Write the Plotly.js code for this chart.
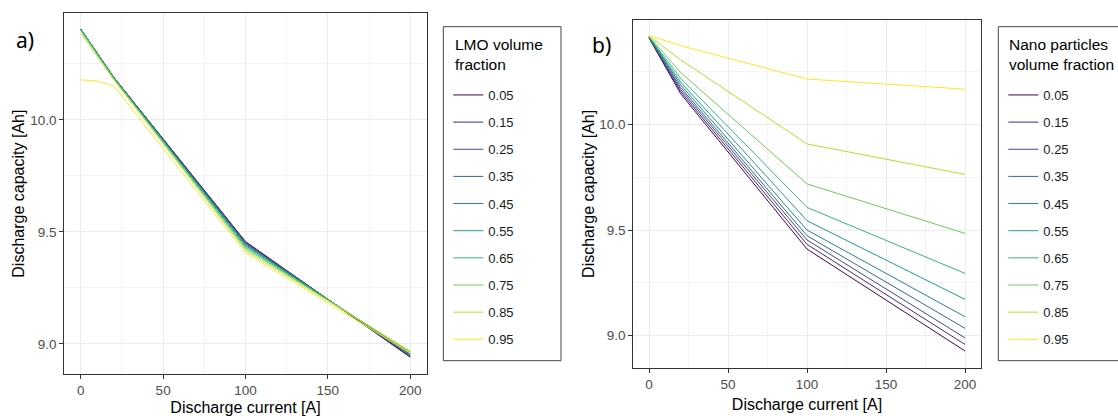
<!DOCTYPE html>
<html>
<head>
<meta charset="utf-8">
<script src="https://cdn.plot.ly/plotly-3.0.1.min.js"></script>
<style>html,body{margin:0;padding:0;background:#fff;}#chart{width:1118px;height:416px;}</style>
</head>
<body>
<div id="chart"></div>
<script>
// ---------- data ----------
const fractionLabels = ['0.05','0.15','0.25','0.35','0.45','0.55','0.65','0.75','0.85','0.95'];
const seriesColors = ['#440154','#482878','#3E4A89','#31688E','#26828E','#1F9E89','#35B779','#6DCD59','#B4DE2C','#FDE725'];

// Panel a) LMO volume fraction
const currentA = [0, 10, 20, 100, 200];
const lmo05 = [10.405, 10.297, 10.190, 9.457, 8.941];
const lmo15 = [10.405, 10.297, 10.190, 9.455, 8.943];
const lmo25 = [10.405, 10.297, 10.190, 9.452, 8.946];
const lmo35 = [10.405, 10.296, 10.189, 9.448, 8.950];
const lmo45 = [10.404, 10.296, 10.188, 9.444, 8.954];
const lmo55 = [10.403, 10.295, 10.187, 9.439, 8.958];
const lmo65 = [10.402, 10.294, 10.186, 9.433, 8.962];
const lmo75 = [10.400, 10.292, 10.185, 9.426, 8.966];
const lmo85 = [10.388, 10.284, 10.180, 9.418, 8.967];
const lmo95 = [10.179, 10.173, 10.152, 9.407, 8.960];

// Panel b) Nano particles volume fraction
const currentB = [0, 20, 100, 200];
const nano05 = [10.408, 10.145, 9.410, 8.928];
const nano15 = [10.409, 10.155, 9.432, 8.959];
const nano25 = [10.410, 10.165, 9.453, 8.990];
const nano35 = [10.411, 10.175, 9.473, 9.035];
const nano45 = [10.412, 10.187, 9.500, 9.090];
const nano55 = [10.413, 10.200, 9.544, 9.172];
const nano65 = [10.414, 10.218, 9.607, 9.295];
const nano75 = [10.416, 10.245, 9.718, 9.484];
const nano85 = [10.418, 10.305, 9.907, 9.763];
const nano95 = [10.420, 10.372, 10.214, 10.166];

const xTickVals = [0, 50, 100, 150, 200];
const yTickVals = [9.0, 9.5, 10.0];

// ---------- build ----------
const lmoSeries = [lmo05, lmo15, lmo25, lmo35, lmo45, lmo55, lmo65, lmo75, lmo85, lmo95];
const nanoSeries = [nano05, nano15, nano25, nano35, nano45, nano55, nano65, nano75, nano85, nano95];

const W = 1118, H = 416;
const px = v => v / W;
const py = v => 1 - v / H;

const traces = [];
lmoSeries.forEach((ys, i) => {
  traces.push({
    x: currentA, y: ys, type: 'scatter', mode: 'lines',
    name: fractionLabels[i], legendgroup: 'a' + i, legend: 'legend',
    line: {color: seriesColors[i], width: 1},
    xaxis: 'x', yaxis: 'y', hoverinfo: 'x+y+name'
  });
});
nanoSeries.forEach((ys, i) => {
  traces.push({
    x: currentB, y: ys, type: 'scatter', mode: 'lines',
    name: fractionLabels[i], legendgroup: 'b' + i, legend: 'legend2',
    line: {color: seriesColors[i], width: 1},
    xaxis: 'x2', yaxis: 'y2', hoverinfo: 'x+y+name'
  });
});

const FAMILY = 'Liberation Sans, Arial, sans-serif';
const tickFont = {family: FAMILY, size: 13.5, color: '#4d4d4d'};
const titleFont = {family: FAMILY, size: 16, color: '#000'};
const gridMajor = '#ebebeb', gridMinor = '#f4f4f4';

function xAxis(domain, anchor, standoff) {
  return {
    domain: domain, anchor: anchor, range: [-10, 210],
    tickmode: 'array', tickvals: xTickVals, ticktext: xTickVals.map(String),
    ticks: 'outside', ticklen: 4, tickcolor: '#333', tickwidth: 1,
    tickfont: tickFont, showline: true, mirror: true, linecolor: '#333', linewidth: 1,
    showgrid: true, gridcolor: gridMajor, gridwidth: 1, zeroline: false,
    minor: {tick0: 25, dtick: 50, showgrid: true, gridcolor: gridMinor, gridwidth: 1, ticks: ''},
    title: {text: 'Discharge current [A]', font: titleFont, standoff: standoff},
    automargin: false
  };
}
function yAxis(domain, anchor, range, standoff) {
  return {
    domain: domain, anchor: anchor, range: range,
    tickmode: 'array', tickvals: yTickVals, ticktext: yTickVals.map(v => v.toFixed(1)),
    ticks: 'outside', ticklen: 4, tickcolor: '#333', tickwidth: 1,
    tickfont: tickFont, showline: true, mirror: true, linecolor: '#333', linewidth: 1,
    showgrid: true, gridcolor: gridMajor, gridwidth: 1, zeroline: false,
    minor: {tick0: 9.25, dtick: 0.5, showgrid: true, gridcolor: gridMinor, gridwidth: 1, ticks: ''},
    title: {text: 'Discharge capacity [Ah]', font: titleFont, standoff: standoff},
    automargin: false
  };
}

const legendCommon = {
  xanchor: 'left', yanchor: 'top', bgcolor: 'rgba(0,0,0,0)', borderwidth: 0,
  font: {family: FAMILY, size: 13, color: '#1a1a1a'},
  tracegroupgap: 7.25, itemclick: false, itemdoubleclick: false
};

const legendTitleFont = {family: FAMILY, size: 15.5, color: '#000'};

const layout = {
  width: W, height: H,
  margin: {l: 0, r: 0, t: 0, b: 0},
  paper_bgcolor: '#fff', plot_bgcolor: '#fff',
  showlegend: true,
  xaxis: xAxis([px(64.3), px(426.7)], 'y', 11),
  yaxis: yAxis([py(374), py(13.3)], 'x', [8.866, 10.476], 1),
  xaxis2: xAxis([px(633.2), px(980.8)], 'y2', 7),
  yaxis2: yAxis([py(367.7), py(20)], 'x2', [8.849, 10.493], 0),
  legend: Object.assign({}, legendCommon, {x: px(448.3), y: py(80)}),
  legend2: Object.assign({}, legendCommon, {x: px(1003.3), y: py(80)}),
  shapes: [
    {type: 'rect', xref: 'paper', yref: 'paper', x0: px(443.3), x1: px(561), y0: py(360.7), y1: py(26.7),
     line: {color: '#444', width: 1}, fillcolor: 'rgba(0,0,0,0)', layer: 'above'},
    {type: 'rect', xref: 'paper', yref: 'paper', x0: px(998.3), x1: px(1130), y0: py(360.7), y1: py(26.7),
     line: {color: '#444', width: 1}, fillcolor: 'rgba(0,0,0,0)', layer: 'above'}
  ],
  annotations: [
    {text: 'a)', xref: 'paper', yref: 'paper', x: px(24.5), y: py(40), xanchor: 'center', yanchor: 'middle',
     showarrow: false, font: {family: 'Noto Sans, sans-serif', size: 21, color: '#000'}},
    {text: 'b)', xref: 'paper', yref: 'paper', x: px(601), y: py(45), xanchor: 'center', yanchor: 'middle',
     showarrow: false, font: {family: 'Noto Sans, sans-serif', size: 21, color: '#000'}},
    {text: 'LMO volume<br>fraction', xref: 'paper', yref: 'paper', x: px(452.5), y: py(33.5),
     xanchor: 'left', yanchor: 'top', align: 'left', showarrow: false, font: legendTitleFont},
    {text: 'Nano particles<br>volume fraction', xref: 'paper', yref: 'paper', x: px(1006.5), y: py(33.5),
     xanchor: 'left', yanchor: 'top', align: 'left', showarrow: false, font: legendTitleFont}
  ]
};

Plotly.newPlot('chart', traces, layout, {displayModeBar: false, staticPlot: true});
</script>
</body>
</html>
